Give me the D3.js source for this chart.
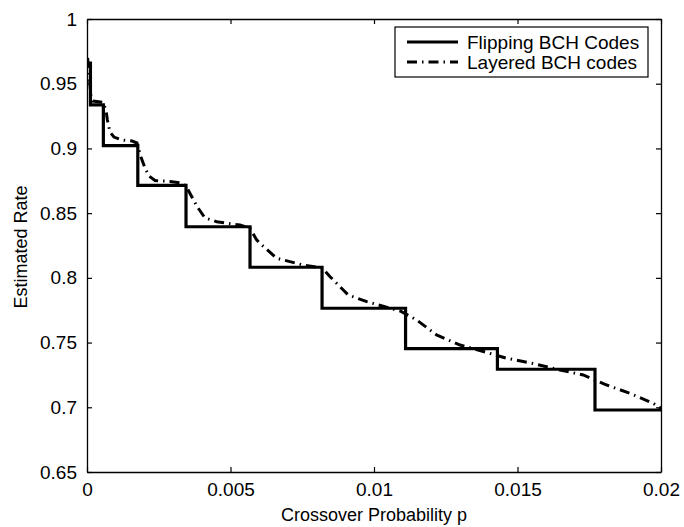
<!DOCTYPE html>
<html>
<head>
<meta charset="utf-8">
<script src="https://cdn.jsdelivr.net/npm/d3@7/dist/d3.min.js"></script>
<style>
  html, body { margin: 0; padding: 0; background: #fff; }
  svg { display: block; }
  text { font-family: "Liberation Sans", Arial, Helvetica, sans-serif; fill: #000; }
</style>
</head>
<body>
<svg id="chart" width="684" height="527"></svg>
<script>
// Crossover probability grid for the flipping BCH step curve (step edges)
const flipP = [0, 0.00012, 0.00057, 0.00177, 0.00345, 0.00568, 0.00819, 0.0111, 0.0143, 0.0177, 0.02];
// Rate held on each step
const flipRate = [0.966, 0.9336, 0.9021, 0.8714, 0.8395, 0.8082, 0.7765, 0.7454, 0.7294, 0.6979];

// Layered BCH codes: estimated rate vs crossover probability
const layerP = [0.00002, 0.00007, 0.000105, 0.00014, 0.00021, 0.00056, 0.00066, 0.00071, 0.0008, 0.00094,
  0.00122, 0.00157, 0.00174, 0.00188, 0.00202, 0.00216, 0.00237, 0.00289, 0.00331, 0.00345,
  0.00365, 0.00387, 0.00411, 0.00452, 0.00533, 0.00568, 0.00591, 0.00609, 0.00661, 0.00754,
  0.00819, 0.00847, 0.00893, 0.0091, 0.00975, 0.01056, 0.01091, 0.01149, 0.01218, 0.013,
  0.01381, 0.01462, 0.01555, 0.01648, 0.01729, 0.01811, 0.01892, 0.01973, 0.02];
const layerRate = [0.9699, 0.9606, 0.949, 0.9397, 0.9366, 0.9355, 0.9297, 0.922, 0.9127, 0.9088,
  0.9065, 0.9057, 0.9042, 0.8934, 0.8849, 0.8787, 0.8752, 0.8745, 0.8733, 0.871,
  0.8627, 0.854, 0.8463, 0.8434, 0.8408, 0.8385, 0.8293, 0.8254, 0.8151, 0.8099,
  0.8076, 0.8009, 0.7906, 0.7868, 0.7816, 0.7765, 0.7744, 0.7674, 0.7559, 0.7481,
  0.7431, 0.7379, 0.7338, 0.7288, 0.725, 0.7172, 0.7108, 0.7031, 0.6992];

const xTicks = [0, 0.005, 0.01, 0.015, 0.02];
const xTickLabels = ["0", "0.005", "0.01", "0.015", "0.02"];
const yTicks = [0.65, 0.7, 0.75, 0.8, 0.85, 0.9, 0.95, 1];
const yTickLabels = ["0.65", "0.7", "0.75", "0.8", "0.85", "0.9", "0.95", "1"];
const seriesNames = ["Flipping BCH Codes", "Layered BCH codes"];

const svg = d3.select("#chart");
const L = 87, R = 661, T = 19, B = 472;
const FS = 19;      // tick and legend text
const FS_LABEL = 18; // axis titles

const x = d3.scaleLinear().domain([0, 0.02]).range([L, R]);
const y = d3.scaleLinear().domain([0.65, 1]).range([B, T]);

svg.append("rect").attr("width", 684).attr("height", 527).attr("fill", "#fff");

svg.append("defs").append("clipPath").attr("id", "plotclip")
  .append("rect").attr("x", L).attr("y", T).attr("width", R - L).attr("height", B - T);

// Axes with inward ticks, mirrored on top and right
function styleAxis(g) {
  g.selectAll("path.domain").attr("stroke", "#000").attr("stroke-width", 1.3);
  g.selectAll(".tick line").attr("stroke", "#000").attr("stroke-width", 1.2);
  g.selectAll("text").attr("font-size", FS).attr("font-family", "Liberation Sans, Arial, sans-serif");
}

const xAxis = d3.axisBottom(x).tickValues(xTicks)
  .tickFormat((d, i) => xTickLabels[i]).tickSizeInner(-5).tickSizeOuter(0).tickPadding(11);
svg.append("g").attr("transform", `translate(0,${B})`).call(xAxis).call(styleAxis);

const xAxisTop = d3.axisTop(x).tickValues(xTicks).tickFormat("").tickSizeInner(-5).tickSizeOuter(0);
svg.append("g").attr("transform", `translate(0,${T})`).call(xAxisTop).call(styleAxis);

const yAxis = d3.axisLeft(y).tickValues(yTicks)
  .tickFormat((d, i) => yTickLabels[i]).tickSizeInner(-5).tickSizeOuter(0).tickPadding(10);
svg.append("g").attr("transform", `translate(${L},0)`).call(yAxis).call(styleAxis);

const yAxisRight = d3.axisRight(y).tickValues(yTicks).tickFormat("").tickSizeInner(-5).tickSizeOuter(0);
svg.append("g").attr("transform", `translate(${R},0)`).call(yAxisRight).call(styleAxis);

// Series
const plot = svg.append("g").attr("clip-path", "url(#plotclip)");

const flipData = flipP.map((p, i) => ({ p, r: i < flipRate.length ? flipRate[i] : flipRate[flipRate.length - 1] }));
const stepLine = d3.line().x(d => x(d.p)).y(d => y(d.r)).curve(d3.curveStepAfter);
plot.append("path").datum(flipData)
  .attr("d", stepLine)
  .attr("fill", "none").attr("stroke", "#000").attr("stroke-width", 3.2)
  .attr("stroke-linejoin", "miter");

const layerData = layerP.map((p, i) => ({ p, r: layerRate[i] }));
const smoothLine = d3.line().x(d => x(d.p)).y(d => y(d.r));
plot.append("path").datum(layerData)
  .attr("d", smoothLine)
  .attr("fill", "none").attr("stroke", "#000").attr("stroke-width", 3)
  .attr("stroke-dasharray", "10,5,1.5,5");

// Legend
const lg = svg.append("g");
lg.append("rect").attr("x", 395).attr("y", 27).attr("width", 253).attr("height", 50)
  .attr("fill", "#fff").attr("stroke", "#000").attr("stroke-width", 1.2);
const legendDash = [null, "10,5,1.5,5"];
seriesNames.forEach((name, i) => {
  const cy = 42 + i * 20;
  const ln = lg.append("line").attr("x1", 407).attr("x2", 458).attr("y1", cy).attr("y2", cy)
    .attr("stroke", "#000").attr("stroke-width", 3);
  if (legendDash[i]) ln.attr("stroke-dasharray", legendDash[i]);
  lg.append("text").attr("x", 467).attr("y", cy).attr("dy", "0.35em")
    .attr("font-size", FS).text(name);
});

// Axis titles
svg.append("text").attr("x", (L + R) / 2).attr("y", 521)
  .attr("text-anchor", "middle").attr("font-size", FS_LABEL)
  .text("Crossover Probability p");
svg.append("text").attr("transform", `translate(27,247) rotate(-90)`)
  .attr("text-anchor", "middle").attr("font-size", FS_LABEL)
  .text("Estimated Rate");
</script>
</body>
</html>
